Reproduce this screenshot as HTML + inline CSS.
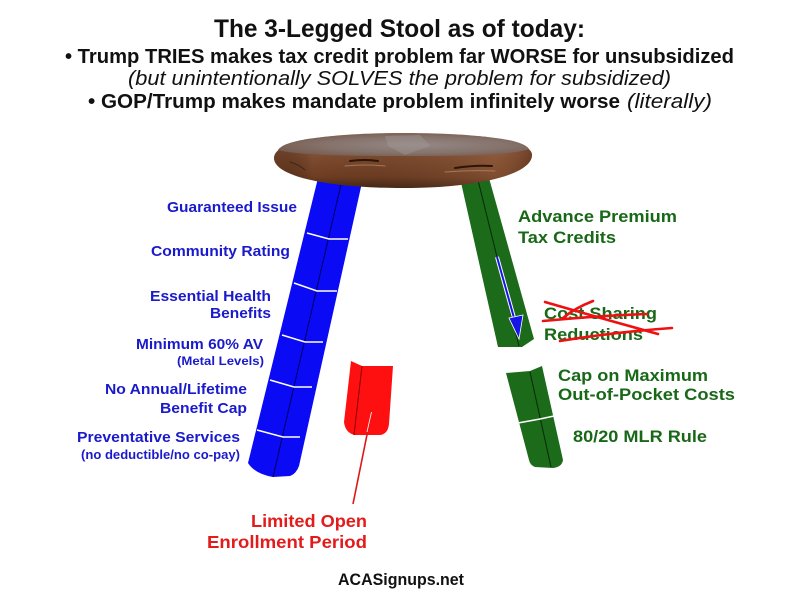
<!DOCTYPE html>
<html>
<head>
<meta charset="utf-8">
<style>
  html,body{margin:0;padding:0;background:#fff;}
  svg{display:block;}
  .h{font-family:"Liberation Sans",Arial,sans-serif;fill:#111;}
  .b{font-family:"Liberation Sans",Arial,sans-serif;font-weight:bold;}
</style>
</head>
<body>
<svg width="800" height="600" viewBox="0 0 800 600" xmlns="http://www.w3.org/2000/svg">
  <defs>
    <linearGradient id="side" x1="0" y1="0" x2="0" y2="1">
      <stop offset="0" stop-color="#8e6a58"/>
      <stop offset="0.45" stop-color="#7e4b2f"/>
      <stop offset="0.8" stop-color="#6e3d22"/>
      <stop offset="1" stop-color="#452816"/>
    </linearGradient>
    <linearGradient id="sideH" x1="0" y1="0" x2="1" y2="0">
      <stop offset="0" stop-color="#5a2e18" stop-opacity="0.5"/>
      <stop offset="0.15" stop-color="#000" stop-opacity="0"/>
      <stop offset="0.85" stop-color="#b07a55" stop-opacity="0.25"/>
      <stop offset="1" stop-color="#5a2e18" stop-opacity="0.5"/>
    </linearGradient>
    <radialGradient id="top" cx="0.55" cy="0.5" r="0.6">
      <stop offset="0" stop-color="#958885"/>
      <stop offset="0.6" stop-color="#85736c"/>
      <stop offset="1" stop-color="#775c4f"/>
    </radialGradient>
  </defs>

  <!-- Header -->
  <text class="h" x="214" y="37" font-size="25" font-weight="bold" textLength="371" lengthAdjust="spacingAndGlyphs">The 3-Legged Stool as of today:</text>
  <text class="h" x="65" y="63" font-size="20" font-weight="bold" textLength="669" lengthAdjust="spacingAndGlyphs">• Trump TRIES makes tax credit problem far WORSE for unsubsidized</text>
  <text class="h" x="128" y="85" font-size="20" font-style="italic" textLength="543" lengthAdjust="spacingAndGlyphs">(but unintentionally SOLVES the problem for subsidized)</text>
  <text class="h" x="88" y="108" font-size="20" font-weight="bold" textLength="532" lengthAdjust="spacingAndGlyphs">• GOP/Trump makes mandate problem infinitely worse</text>
  <text class="h" x="627" y="108" font-size="20" font-style="italic" textLength="85" lengthAdjust="spacingAndGlyphs">(literally)</text>

  <!-- Blue leg -->
  <path d="M318,178 L363,178 L299,466 Q296,474 290,476 L273,477 Q255,474 248,463 Z" fill="#0a0af5"/>
  <line x1="342" y1="180" x2="273" y2="477" stroke="#000060" stroke-width="1"/>
  <g fill="none" stroke="#ffffff" stroke-width="1.6">
    <polyline points="307,233 329,239 348,239"/>
    <polyline points="294,283 317,291 337,291"/>
    <polyline points="282,335 305,342 323,342"/>
    <polyline points="270,380 294,387 312,387"/>
    <polyline points="257,430 283,437 300,437"/>
  </g>

  <!-- Green upper leg -->
  <path d="M460,178 L489,178 L534,339 L522,347 L498,347 Z" fill="#1b6b1b"/>
  <line x1="478" y1="180" x2="519" y2="346" stroke="#062a06" stroke-width="1"/>
  <!-- blue arrow -->
  <line x1="497" y1="257" x2="516" y2="325" stroke="#ffffff" stroke-width="4"/>
  <line x1="497" y1="257" x2="516" y2="325" stroke="#1515e8" stroke-width="2"/>
  <polygon points="509,318 523,315 519,339" fill="#1515e8" stroke="#ffffff" stroke-width="0.8"/>

  <!-- Green lower piece -->
  <path d="M506,373 L530,371 L542,366 L563,460 Q562,467 553,468 L535,467 Q530,465 529,460 Z" fill="#1b6b1b"/>
  <line x1="530" y1="372" x2="551" y2="467" stroke="#062a06" stroke-width="1"/>
  <polyline points="518,423 540,419 554,416" fill="none" stroke="#ffffff" stroke-width="1.6"/>

  <!-- Red piece -->
  <path d="M351,361 L362,366 L393,366 L389,424 Q388,434 380,435 L354,435 Q345,432 344,422 Z" fill="#ff1010"/>
  <line x1="362" y1="366" x2="354" y2="435" stroke="#8a0000" stroke-width="1"/>
  <line x1="372" y1="410" x2="353" y2="504" stroke="#e01515" stroke-width="1.6"/>
  <line x1="371.5" y1="412" x2="367" y2="432" stroke="#ffffff" stroke-width="0.8"/>

  <!-- Seat -->
  <path d="M274,158 C274,141 325,133 403,133 C480,133 532,140 532,155 C532,174 480,188 403,188 C326,188 274,176 274,158 Z" fill="url(#side)"/>
  <path d="M274,158 C274,141 325,133 403,133 C480,133 532,140 532,155 C532,174 480,188 403,188 C326,188 274,176 274,158 Z" fill="url(#sideH)"/>
  <path d="M278,150 C285,139 330,134 403,134 C476,134 522,138 529,149 C512,155 465,156 403,156 C340,156 296,155 278,150 Z" fill="url(#top)"/>
  <path d="M385,136 L420,135 L430,146 L405,155 L388,146 Z" fill="#a39a98" opacity="0.4"/>
  <g stroke="#2a1508" stroke-linecap="round" fill="none">
    <path d="M350,161 Q365,159 378,161" stroke-width="2"/>
    <path d="M455,168 Q475,165 492,166" stroke-width="2"/>
    <path d="M290,162 Q300,165 305,170" stroke-width="1" opacity="0.6"/>
  </g>
  <g stroke="#c89878" stroke-linecap="round" fill="none" opacity="0.6">
    <path d="M345,166 Q365,164 385,166" stroke-width="1"/>
    <path d="M445,172 Q470,170 495,171" stroke-width="1"/>
  </g>

  <!-- Blue labels -->
  <g class="b" fill="#1a1acc" text-anchor="end" font-size="15">
    <text x="297" y="212" textLength="130" lengthAdjust="spacingAndGlyphs">Guaranteed Issue</text>
    <text x="290" y="256" textLength="139" lengthAdjust="spacingAndGlyphs">Community Rating</text>
    <text x="271" y="301" textLength="121" lengthAdjust="spacingAndGlyphs">Essential Health</text>
    <text x="271" y="318" textLength="61" lengthAdjust="spacingAndGlyphs">Benefits</text>
    <text x="263" y="349" textLength="127" lengthAdjust="spacingAndGlyphs">Minimum 60% AV</text>
    <text x="264" y="365" font-size="12" textLength="87" lengthAdjust="spacingAndGlyphs">(Metal Levels)</text>
    <text x="247" y="394" textLength="142" lengthAdjust="spacingAndGlyphs">No Annual/Lifetime</text>
    <text x="247" y="413" textLength="87" lengthAdjust="spacingAndGlyphs">Benefit Cap</text>
    <text x="240" y="442" textLength="163" lengthAdjust="spacingAndGlyphs">Preventative Services</text>
    <text x="240" y="459" font-size="12.5" textLength="159" lengthAdjust="spacingAndGlyphs">(no deductible/no co-pay)</text>
  </g>

  <!-- Green labels -->
  <g class="b" fill="#186818" font-size="16.5">
    <text x="518" y="222" textLength="159" lengthAdjust="spacingAndGlyphs">Advance Premium</text>
    <text x="518" y="243" textLength="98" lengthAdjust="spacingAndGlyphs">Tax Credits</text>
    <text x="544" y="319" textLength="113" lengthAdjust="spacingAndGlyphs">Cost Sharing</text>
    <text x="544" y="340" textLength="99" lengthAdjust="spacingAndGlyphs">Reductions</text>
    <text x="558" y="381" textLength="150" lengthAdjust="spacingAndGlyphs">Cap on Maximum</text>
    <text x="558" y="400" textLength="177" lengthAdjust="spacingAndGlyphs">Out-of-Pocket Costs</text>
    <text x="573" y="442" textLength="134" lengthAdjust="spacingAndGlyphs">80/20 MLR Rule</text>
  </g>

  <!-- Red scribbles -->
  <g stroke="#ee1111" stroke-width="2.6" stroke-linecap="round" fill="none">
    <path d="M543,321 Q595,316 647,314"/>
    <path d="M545,302 Q600,318 658,334"/>
    <path d="M593,301 Q575,308 563,318"/>
    <path d="M560,341 Q615,332 672,328"/>
  </g>

  <!-- Red labels -->
  <g class="b" fill="#e31b1b" text-anchor="end" font-size="17.5">
    <text x="367" y="527" textLength="116" lengthAdjust="spacingAndGlyphs">Limited Open</text>
    <text x="367" y="548" textLength="160" lengthAdjust="spacingAndGlyphs">Enrollment Period</text>
  </g>

  <!-- Footer -->
  <text class="h" x="338" y="585" font-size="17" font-weight="bold" textLength="126" lengthAdjust="spacingAndGlyphs">ACASignups.net</text>
</svg>
</body>
</html>
